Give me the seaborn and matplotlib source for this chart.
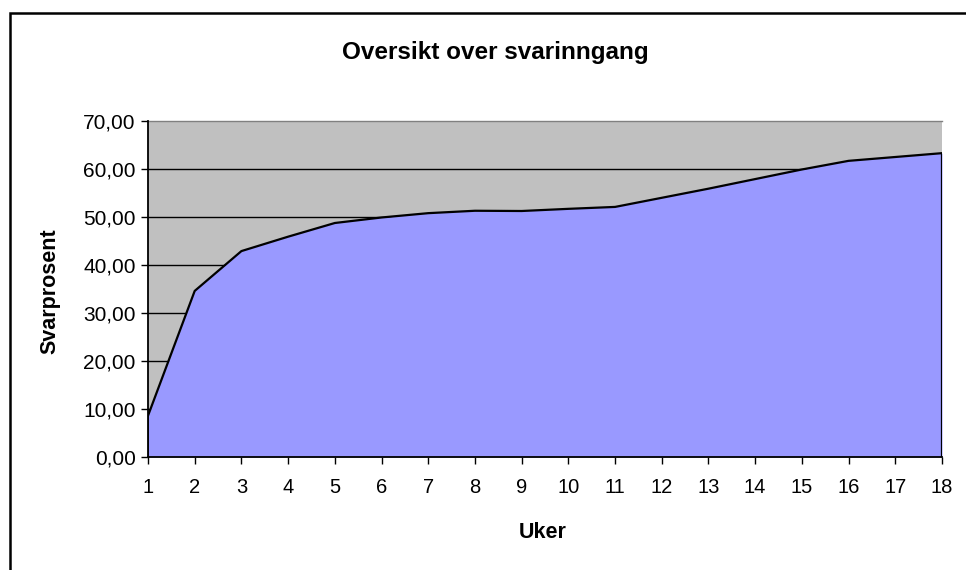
import matplotlib
matplotlib.use("Agg")
import matplotlib.pyplot as plt
import matplotlib.patches as mpatches
import seaborn as sns
import pandas as pd
from matplotlib.ticker import FuncFormatter, MultipleLocator

weeks = list(range(1, 19))
response_pct = [8.6, 34.6, 42.9, 45.9, 48.75, 49.9, 50.8, 51.3, 51.25, 51.7,
                52.1, 54.0, 55.9, 57.9, 59.9, 61.7, 62.5, 63.3]
title = "Oversikt over svarinngang"
xlabel = "Uker"
ylabel = "Svarprosent"

df = pd.DataFrame({"week": weeks, "pct": response_pct})

plt.rcParams['font.family'] = ['Liberation Sans', 'DejaVu Sans']

fig = plt.figure(figsize=(9.66, 5.70), dpi=100)
fig.patch.set_facecolor("white")
ax = fig.add_axes([148/966, 1-457/570, (942-148)/966, (457-121)/570])
ax.set_facecolor("#C0C0C0")

ax.fill_between(df["week"], df["pct"], 0, color="#9999FF", zorder=2, linewidth=0)
sns.lineplot(data=df, x="week", y="pct", ax=ax, color="black", linewidth=1.6, zorder=3)
ax.vlines(weeks[-1], 0, response_pct[-1], color="black", linewidth=1.6, zorder=3)
ax.vlines(weeks[0], 0, response_pct[0], color="black", linewidth=1.2, zorder=3)

ax.set_xlim(1, 18)
ax.set_ylim(0, 70)
ax.yaxis.set_major_locator(MultipleLocator(10))
ax.set_xticks(weeks)
ax.yaxis.set_major_formatter(FuncFormatter(lambda v, p: f"{v:.2f}".replace(".", ",")))
for yv in range(10, 70, 10):
    ax.axhline(yv, color="black", linewidth=1.0, zorder=1)

for s in ["top", "right"]:
    ax.spines[s].set_color("#808080")
    ax.spines[s].set_linewidth(1.0)
ax.spines["right"].set_visible(False)
for s in ["left", "bottom"]:
    ax.spines[s].set_color("black")
    ax.spines[s].set_linewidth(1.3)
    ax.spines[s].set_zorder(4)

ax.tick_params(axis="x", direction="out", length=5, width=1, pad=10, labelsize=14.5)
ax.tick_params(axis="y", direction="out", length=5, width=1, pad=4, labelsize=15)
ax.set_xlabel("")
ax.set_ylabel("")

fig.text(495/966, 1-52/570, title, ha="center", va="center", fontsize=17.5, fontweight="bold")
fig.text(543/966, 1-532/570, xlabel, ha="center", va="center", fontsize=15.5, fontweight="bold")
fig.text(50/966, 1-291/570, ylabel, ha="center", va="center", fontsize=15.5, fontweight="bold", rotation=90)

frame = mpatches.Rectangle((10/966, -0.2), 1.2, (557/570) + 0.2, transform=fig.transFigure,
                           fill=False, edgecolor="black", linewidth=1.8)
fig.patches.append(frame)

fig.savefig("out.png", dpi=100)
